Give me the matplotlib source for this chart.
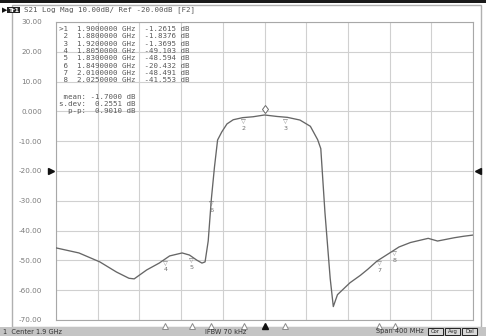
import numpy as np
import matplotlib
matplotlib.use("Agg")
import matplotlib.pyplot as plt
from matplotlib.patches import Rectangle
from matplotlib.transforms import blended_transform_factory

# ---- data ----
freq_ghz = [1.700, 1.722, 1.742, 1.758, 1.770, 1.775, 1.787, 1.799, 1.809, 1.821,
            1.828, 1.835, 1.840, 1.843, 1.846, 1.849, 1.852, 1.855, 1.859, 1.864,
            1.870, 1.879, 1.889, 1.900, 1.912, 1.922, 1.934, 1.944, 1.951, 1.954,
            1.958, 1.963, 1.966, 1.970, 1.976, 1.982, 1.992, 1.999, 2.008, 2.021,
            2.029, 2.040, 2.057, 2.066, 2.082, 2.091, 2.100]
s21_db = [-45.8, -47.5, -50.5, -53.9, -56.0, -56.2, -53.2, -50.9, -48.5, -47.5,
          -48.2, -49.9, -50.9, -50.5, -43.5, -29.5, -18.7, -9.6, -6.9, -4.2,
          -2.8, -2.1, -1.8, -1.2, -1.7, -2.0, -2.9, -5.0, -9.5, -12.5,
          -34.0, -56.0, -65.5, -61.5, -59.5, -57.5, -55.0, -53.0, -50.2, -47.3,
          -45.5, -44.0, -42.6, -43.5, -42.4, -41.9, -41.5]

marker_ids = [1, 2, 3, 4, 5, 6, 7, 8]
marker_freqs = [1.9000000, 1.8800000, 1.9200000, 1.8050000, 1.8300000, 1.8490000, 2.0100000, 2.0250000]
marker_vals = ["-1.2615", "-1.8376", "-1.3695", "-49.103", "-48.594", "-20.432", "-48.491", "-41.553"]
stats_labels = ["mean:", "s.dev:", "p-p:"]
stats_vals = ["-1.7000", "0.2551", "0.9010"]

y_ticks = [30, 20, 10, 0, -10, -20, -30, -40, -50, -60, -70]
y_ticklabels = ["30.00", "20.00", "10.00", "0.000", "-10.00", "-20.00",
                "-30.00", "-40.00", "-50.00", "-60.00", "-70.00"]
x_start, x_stop = 1.7, 2.1
ref_level = -20

title_text = "S21 Log Mag 10.00dB/ Ref -20.00dB [F2]"
status_left = "1  Center 1.9 GHz"
status_mid = "IFBW 70 kHz"
status_right = "Span 400 MHz"

# ---- figure ----
W, H = 486, 336
fig = plt.figure(figsize=(W / 100, H / 100), dpi=100, facecolor="white")

def fx(px):
    return px / W

def fy(py):
    return 1 - py / H

# outer decorations (behind axes)
fig.patches.append(Rectangle((0, fy(3)), 1, 3 / H, transform=fig.transFigure,
                             facecolor="#1a1a1a", edgecolor="none", zorder=-3))
fig.patches.append(Rectangle((fx(12), fy(327)), fx(481) - fx(12), (327 - 5) / H,
                             transform=fig.transFigure, facecolor="white",
                             edgecolor="#b0b0b0", lw=1.0, zorder=-3))
fig.patches.append(Rectangle((0, 0), 1, 9 / H, transform=fig.transFigure,
                             facecolor="#c4c4c4", edgecolor="none", zorder=-3))

# title line
fig.text(fx(2), fy(10), "\u25B6", fontsize=5, color="#111111", va="center", ha="left")
fig.text(fx(8), fy(10), "Tr1", fontsize=4.5, color="white", va="center", ha="left",
         fontweight="bold",
         bbox=dict(boxstyle="square,pad=0.15", facecolor="#222222", edgecolor="none"))
fig.text(fx(24), fy(10), title_text, fontsize=5.4, color="#555555", va="center",
         ha="left", family="DejaVu Sans Mono")

# status bar
fig.text(fx(3), fy(331.5), status_left, fontsize=4.8, color="#333333", va="center", ha="left")
fig.text(fx(205), fy(331.5), status_mid, fontsize=4.8, color="#333333", va="center", ha="left")
fig.text(fx(376), fy(331.5), status_right, fontsize=4.8, color="#333333", va="center", ha="left")
for i, lab in enumerate(["Cor", "Avg", "Del"]):
    x0 = 428 + i * 17
    fig.patches.append(Rectangle((fx(x0), fy(335)), 15 / W, 7 / H, transform=fig.transFigure,
                                 facecolor="#d8d8d8", edgecolor="#222222", lw=0.7, zorder=-2))
    fig.text(fx(x0 + 7.5), fy(331.5), lab, fontsize=3.8, color="#222222", va="center", ha="center")

# main axes
ax = fig.add_axes([fx(56), fy(320), fx(473) - fx(56), (320 - 22) / H])
ax.set_zorder(1)
ax.set_facecolor("white")
ax.set_xlim(x_start, x_stop)
ax.set_ylim(-70, 30)
ax.set_xticks(np.linspace(x_start, x_stop, 11))
ax.set_yticks(y_ticks)
ax.set_yticklabels(y_ticklabels)
ax.set_xticklabels([])
ax.tick_params(axis="both", length=0, colors="#7a7a7a", labelsize=5.2, pad=10)
ax.grid(True, color="#d0d0d0", lw=0.8)
for s in ax.spines.values():
    s.set_color("#a8a8a8")
    s.set_linewidth(0.8)

ax.plot(freq_ghz, s21_db, color="#666666", lw=0.95, zorder=3)

# reference level arrows
tr = blended_transform_factory(ax.transAxes, ax.transData)
ax.plot([-0.012], [ref_level], marker=">", color="#111111", ms=4.5, transform=tr, clip_on=False)
ax.plot([1.012], [ref_level], marker="<", color="#111111", ms=4.5, transform=tr, clip_on=False)

# markers on trace
for mid, mf in zip(marker_ids, marker_freqs):
    mv = float(np.interp(mf, freq_ghz, s21_db))
    if mid == 1:
        ax.plot([mf], [mv + 2.0], marker="d", ms=4.5, mfc="white", mec="#6a6a6a", mew=0.7, zorder=4)
    else:
        ax.annotate("\u25BD", (mf, mv), xytext=(0, -3.2), textcoords="offset points",
                    ha="center", va="center", fontsize=4.5, color="#707070", zorder=4)
        ax.annotate(str(mid), (mf, mv), xytext=(0, -8), textcoords="offset points",
                    ha="center", va="center", fontsize=4.6, color="#707070", zorder=4)

# bottom marker triangles
trb = blended_transform_factory(ax.transData, ax.transAxes)
for mid, mf in zip(marker_ids, marker_freqs):
    if mid == 1:
        ax.plot([mf], [-0.02], marker="^", ms=4.5, color="#111111", transform=trb, clip_on=False)
    else:
        ax.plot([mf], [-0.02], marker="^", ms=4.5, mfc="white", mec="#8a8a8a", mew=0.7,
                transform=trb, clip_on=False)

# marker table
x_tab = fx(59)
for i, (mid, mf, mv) in enumerate(zip(marker_ids, marker_freqs, marker_vals)):
    prefix = ">" if mid == 1 else " "
    line = f"{prefix}{mid}  {mf:.7f} GHz  {mv} dB"
    fig.text(x_tab, fy(29 + i * 7.3), line, fontsize=5.4, color="#5a5a5a",
             family="DejaVu Sans Mono", va="center", ha="left", zorder=5)
for i, (sl, sv) in enumerate(zip(stats_labels, stats_vals)):
    line = f"{sl:>6} {sv:>7} dB"
    fig.text(x_tab, fy(97 + i * 6.8), line, fontsize=5.4, color="#5a5a5a",
             family="DejaVu Sans Mono", va="center", ha="left", zorder=5)

fig.savefig("out.png", dpi=100, facecolor=fig.get_facecolor())
